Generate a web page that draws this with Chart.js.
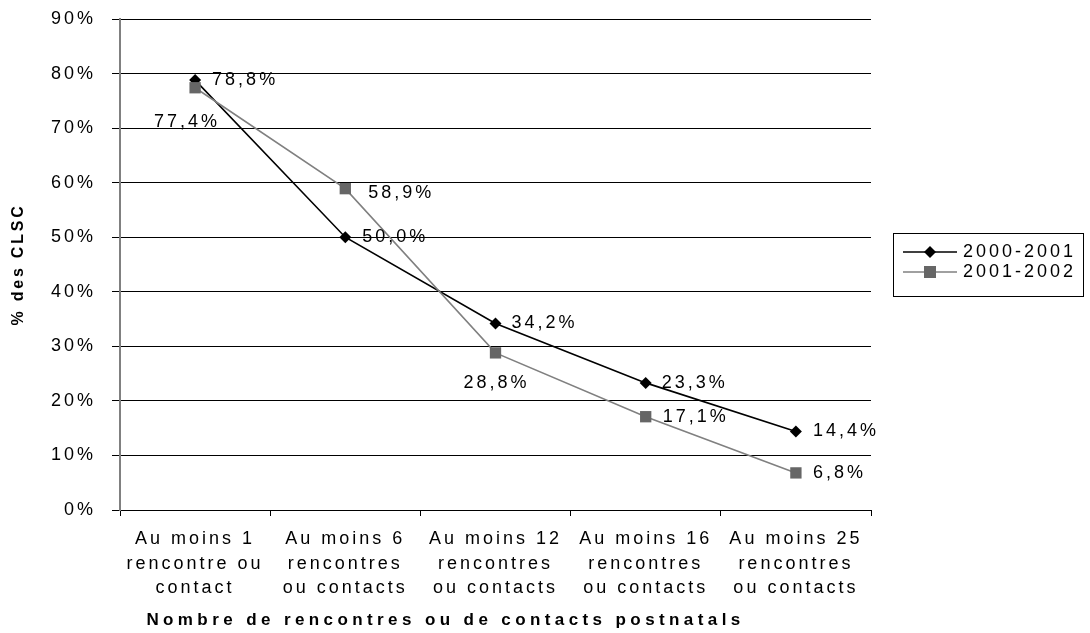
<!DOCTYPE html>
<html>
<head>
<meta charset="utf-8">
<script src="https://cdn.jsdelivr.net/npm/chart.js@4/dist/chart.umd.min.js"></script>
<style>
  html, body { margin: 0; padding: 0; background: #ffffff; }
  #wrap { width: 1090px; height: 633px; position: relative; }
</style>
</head>
<body>
<div id="wrap"><canvas id="chart"></canvas></div>
<script>
// Categories (multi-line labels)
const categories = [
  ['Au moins 1', 'rencontre ou', 'contact'],
  ['Au moins 6', 'rencontres', 'ou contacts'],
  ['Au moins 12', 'rencontres', 'ou contacts'],
  ['Au moins 16', 'rencontres', 'ou contacts'],
  ['Au moins 25', 'rencontres', 'ou contacts']
];

// Series
const seriesNames = ['2000-2001', '2001-2002'];
const values2000 = [78.8, 50.0, 34.2, 23.3, 14.4];
const values2001 = [77.4, 58.9, 28.8, 17.1, 6.8];

// Y axis ticks
const yMin = 0;
const yMax = 90;
const yStep = 10;

// Axis titles
const yTitle = '% des CLSC';
const xTitle = 'Nombre de rencontres ou de contacts postnatals';

const FONT = '"Liberation Sans", Arial, sans-serif';
const FONT_SIZE = 18;
const TEXT_SPACING = '3px';

const fmtPct = v => v.toFixed(1).replace('.', ',') + '%';

// Value labels next to each point; placement per dataset / point
const valueLabels = {
  id: 'valueLabels',
  afterDatasetsDraw(chart, args, opts) {
    const ctx = chart.ctx;
    ctx.save();
    ctx.font = FONT_SIZE + 'px ' + FONT;
    ctx.letterSpacing = TEXT_SPACING;
    ctx.fillStyle = '#000';
    ctx.textBaseline = 'middle';
    chart.data.datasets.forEach((ds, di) => {
      const meta = chart.getDatasetMeta(di);
      meta.data.forEach((pt, i) => {
        const place = opts.placement[di][i];
        ctx.textAlign = place[2];
        ctx.fillText(fmtPct(ds.data[i]), pt.x + place[0], pt.y + place[1]);
      });
    });
    ctx.restore();
  }
};

// Line + marker swatch for the legend
function drawSwatch(ctx, x, y, color, markerColor, shape) {
  ctx.save();
  ctx.strokeStyle = color;
  ctx.lineWidth = 1.5;
  ctx.beginPath();
  ctx.moveTo(x, y);
  ctx.lineTo(x + 54, y);
  ctx.stroke();
  ctx.fillStyle = markerColor;
  const cx = x + 27;
  ctx.beginPath();
  if (shape === 'diamond') {
    ctx.moveTo(cx - 6, y); ctx.lineTo(cx, y - 6); ctx.lineTo(cx + 6, y); ctx.lineTo(cx, y + 6);
    ctx.closePath();
  } else {
    ctx.rect(cx - 6, y - 6, 12, 12);
  }
  ctx.fill();
  ctx.restore();
}

const boxedLegend = {
  id: 'boxedLegend',
  afterDraw(chart, args, opts) {
    const ctx = chart.ctx;
    const x = opts.x, y = opts.y;
    ctx.save();
    ctx.strokeStyle = '#000';
    ctx.lineWidth = 1;
    ctx.strokeRect(x + 0.5, y + 0.5, opts.w, opts.h);
    ctx.font = FONT_SIZE + 'px ' + FONT;
    ctx.letterSpacing = TEXT_SPACING;
    ctx.fillStyle = '#000';
    ctx.textBaseline = 'middle';
    ctx.textAlign = 'left';
    chart.data.datasets.forEach((ds, i) => {
      const ly = y + 19 + i * 20;
      drawSwatch(ctx, x + 10, ly, ds.borderColor, ds.pointBackgroundColor, i === 0 ? 'diamond' : 'square');
      ctx.fillText(ds.label, x + 70, ly);
    });
    ctx.restore();
  }
};

// Letter spacing for axis ticks and titles; the x title sits left of centre
const spacedText = {
  id: 'spacedText',
  beforeDraw(chart) {
    Object.values(chart.scales).forEach(scale => {
      if (scale._spacedWrapped) return;
      const origLabels = scale.drawLabels.bind(scale);
      const origTitle = scale.drawTitle.bind(scale);
      scale.drawLabels = function (area) {
        const ctx = this.ctx;
        const prev = ctx.letterSpacing;
        ctx.letterSpacing = TEXT_SPACING;
        origLabels(area);
        ctx.letterSpacing = prev;
      };
      scale.drawTitle = function () {
        const ctx = this.ctx;
        ctx.save();
        if (this.axis === 'x') {
          ctx.letterSpacing = '4.4px';
          ctx.translate(-50, 0);
        } else {
          ctx.letterSpacing = '2.8px';
        }
        origTitle();
        ctx.restore();
      };
      scale._spacedWrapped = true;
    });
  }
};

new Chart(document.getElementById('chart'), {
  type: 'line',
  data: {
    labels: categories,
    datasets: [
      {
        label: seriesNames[0],
        data: values2000,
        borderColor: '#000000',
        backgroundColor: '#000000',
        pointBackgroundColor: '#000000',
        pointBorderColor: '#000000',
        borderWidth: 1.6,
        pointStyle: 'rectRot',
        pointRadius: 6,
        pointBorderWidth: 0,
        tension: 0,
        order: 1
      },
      {
        label: seriesNames[1],
        data: values2001,
        borderColor: '#808080',
        backgroundColor: '#666666',
        pointBackgroundColor: '#666666',
        pointBorderColor: '#666666',
        borderWidth: 1.6,
        pointStyle: 'rect',
        pointRadius: 8,
        pointBorderWidth: 0,
        tension: 0,
        order: 0
      }
    ]
  },
  options: {
    responsive: true,
    maintainAspectRatio: false,
    animation: false,
    events: [],
    layout: { padding: { left: 0, right: 219, top: 19, bottom: 0 } },
    plugins: {
      legend: { display: false },
      tooltip: { enabled: false },
      valueLabels: {
        placement: [
          [[17, 0, 'left'], [17, 0, 'left'], [16, 0, 'left'], [16, 0, 'left'], [17, 0, 'left']],
          [[-8, 34, 'center'], [23, 4, 'left'], [1, 30, 'center'], [17, 0, 'left'], [17, 0, 'left']]
        ]
      },
      boxedLegend: { x: 893, y: 233, w: 190, h: 63 }
    },
    scales: {
      x: {
        type: 'category',
        offset: true,
        afterFit(scale) { scale.height = 123; },
        grid: {
          offset: true,
          drawOnChartArea: false,
          drawTicks: true,
          tickLength: 6,
          color: '#000000',
          lineWidth: 1
        },
        border: { display: true, color: '#000000', width: 1 },
        ticks: {
          color: '#000000',
          maxRotation: 0,
          autoSkip: false,
          padding: 11,
          font: { family: FONT, size: FONT_SIZE, lineHeight: 1.36 }
        },
        title: {
          display: true,
          text: xTitle,
          color: '#000000',
          padding: { top: 4, bottom: 2 },
          font: { family: FONT, size: 17, weight: 'bold' }
        }
      },
      y: {
        min: yMin,
        max: yMax,
        afterFit(scale) {
          scale.width = 120;
          scale.paddingTop = 0;
          scale.paddingBottom = 0;
        },
        grid: {
          color: '#000000',
          lineWidth: 1,
          drawTicks: true,
          tickLength: 8
        },
        border: { display: true, color: '#808080', width: 2 },
        ticks: {
          stepSize: yStep,
          color: '#000000',
          padding: 16,
          font: { family: FONT, size: FONT_SIZE },
          callback: v => v + '%'
        },
        title: {
          display: true,
          text: yTitle,
          color: '#000000',
          padding: { top: 9, bottom: 4 },
          font: { family: FONT, size: 16, weight: 'bold' }
        }
      }
    }
  },
  plugins: [spacedText, valueLabels, boxedLegend]
});
</script>
</body>
</html>
